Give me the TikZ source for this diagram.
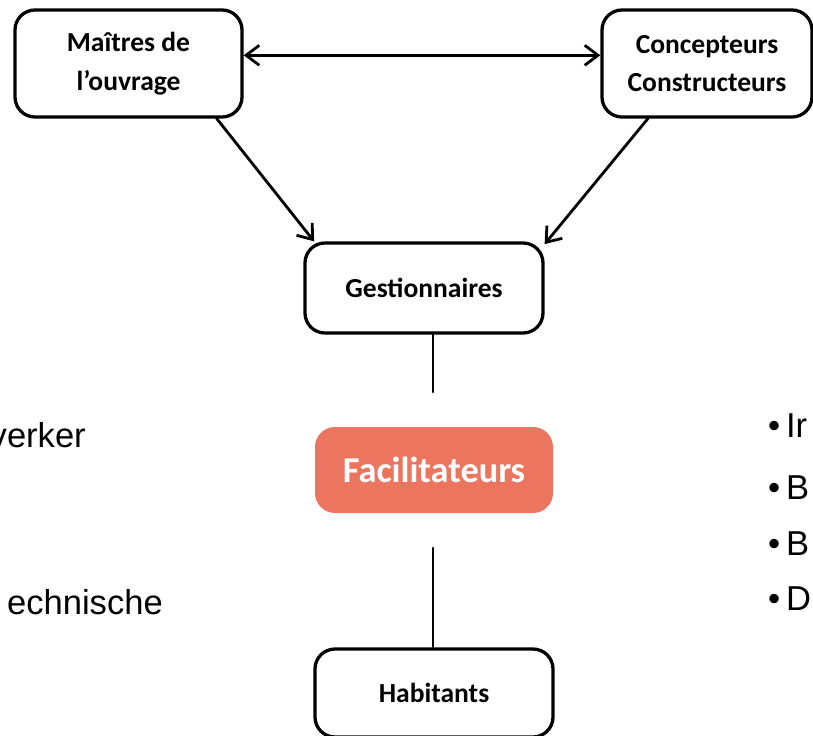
\documentclass[tikz,border=0pt]{standalone}
\usepackage{fontspec}
\setmainfont{Carlito}
\newfontfamily\arialfont{Liberation Sans}
\usetikzlibrary{arrows.meta}
\definecolor{salmon}{RGB}{236,117,96}
\begin{document}
\begin{tikzpicture}[x=0.03cm, y=-0.03cm, line join=round, line cap=round,
		>={Straight Barb[length=4mm,width=6mm]},
		box/.style={draw, line width=2.8pt, rounded corners=6mm, align=center,
			inner sep=0pt, font=\fontsize{23.5}{33}\selectfont\bfseries},
		link/.style={line width=2.4pt},
		side/.style={font=\arialfont\fontsize{29.5}{35}\selectfont, inner sep=0pt}]
	\useasboundingbox (0,0) rectangle (813,736);
	\clip (0,0) rectangle (813,736);
	% boxes
	\node[box, minimum width=227*0.3mm, minimum height=107*0.3mm] (ma) at (128.5,63.5) {Maîtres de\\l’ouvrage};
	\node[box, minimum width=210*0.3mm, minimum height=107*0.3mm] (co) at (707,63.5) {Concepteurs\\Constructeurs};
	\node[box, minimum width=238*0.3mm, minimum height=90*0.3mm] (ge) at (424,288) {Gestionnaires};
	\node[box, draw=none, fill=salmon, text=white, font=\fontsize{31}{35}\selectfont\bfseries,
		minimum width=238*0.3mm, minimum height=86*0.3mm] (fa) at (434,470) {Facilitateurs};
	\node[box, minimum width=238*0.3mm, minimum height=88*0.3mm] (ha) at (434,693) {Habitants};
	% connectors
	\draw[link,<->] ([yshift=7pt]ma.east) -- ([yshift=7pt]co.west);
	\draw[link,->] (ma.-32) -- (ge.157);
	\draw[link,->] (co.-137) -- (ge.20);
	\coordinate (gapA) at (433,392);
	\coordinate (gapB) at (433,548);
	\draw[link] (ge.south -| gapA) -- (gapA);
	\draw[link] (gapB) -- (gapB |- ha.north);
	% cut-off lists left and right
	\node[side, anchor=base east] (l1) at (86,447) {verker};
	\node[side, anchor=base east] (l4) at (163,614) {echnische};
	\foreach \t/\y in {Ir/437, B/499, B/555, D/610}
		\node[side, anchor=base west] at (768,\y) {•\,\t};
\end{tikzpicture}
\end{document}
